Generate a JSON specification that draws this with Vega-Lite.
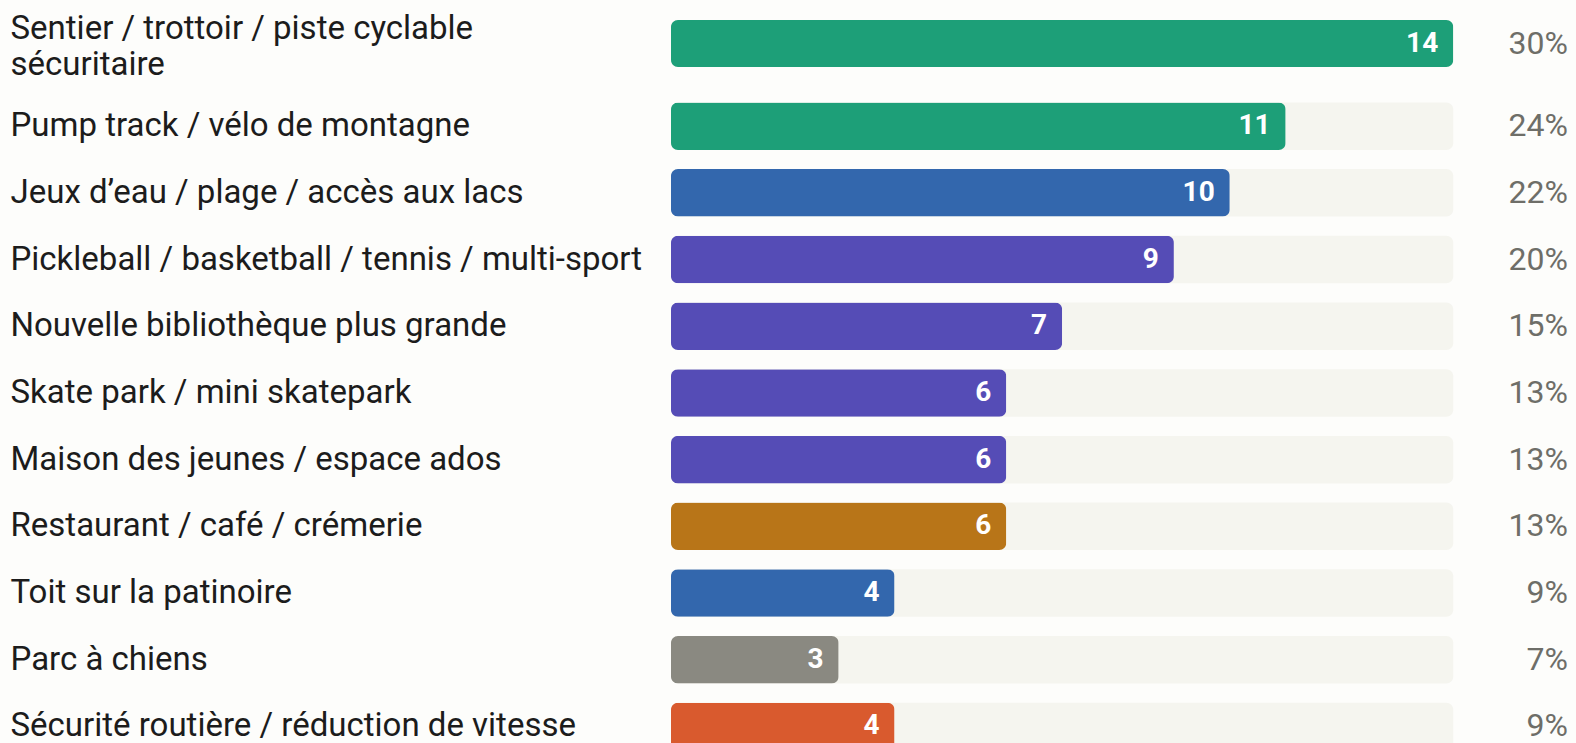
{
  "$schema": "https://vega.github.io/schema/vega-lite/v6.json",
  "autosize": {"type": "none"},
  "width": 894,
  "height": 743,
  "padding": {"left": 671, "right": 11, "top": 0, "bottom": 0},
  "background": "#fdfdfb",
  "config": {"view": {"stroke": null}, "font": "Roboto"},
  "data": {
    "values": [
      {"rank": 1, "label": "Sentier / trottoir / piste cyclable|sécuritaire", "count": 14, "pct": 0.30, "group": "Mobilité active"},
      {"rank": 2, "label": "Pump track / vélo de montagne", "count": 11, "pct": 0.24, "group": "Mobilité active"},
      {"rank": 3, "label": "Jeux d’eau / plage / accès aux lacs", "count": 10, "pct": 0.22, "group": "Eau et glace"},
      {"rank": 4, "label": "Pickleball / basketball / tennis / multi-sport", "count": 9, "pct": 0.20, "group": "Loisirs"},
      {"rank": 5, "label": "Nouvelle bibliothèque plus grande", "count": 7, "pct": 0.15, "group": "Loisirs"},
      {"rank": 6, "label": "Skate park / mini skatepark", "count": 6, "pct": 0.13, "group": "Loisirs"},
      {"rank": 7, "label": "Maison des jeunes / espace ados", "count": 6, "pct": 0.13, "group": "Loisirs"},
      {"rank": 8, "label": "Restaurant / café / crémerie", "count": 6, "pct": 0.13, "group": "Commerce"},
      {"rank": 9, "label": "Toit sur la patinoire", "count": 4, "pct": 0.09, "group": "Eau et glace"},
      {"rank": 10, "label": "Parc à chiens", "count": 3, "pct": 0.07, "group": "Animaux"},
      {"rank": 11, "label": "Sécurité routière / réduction de vitesse", "count": 4, "pct": 0.09, "group": "Sécurité"}
    ]
  },
  "layer": [
    {
      "transform": [{"filter": "datum.rank == 1"}],
      "encoding": {
        "y": {
          "field": "label", "type": "nominal", "sort": {"field": "rank", "op": "min"},
          "scale": {"range": [20, 67], "paddingInner": 0, "paddingOuter": 0},
          "axis": {"title": null, "orient": "left", "domain": false, "ticks": false, "tickSize": 0, "labelAlign": "left", "labelBaseline": "middle", "labelPadding": 661, "labelOffset": -15, "labelFontSize": 33, "labelColor": "#1c1c1c", "labelFont": "Roboto", "labelLimit": 700, "labelLineHeight": 36, "labelExpr": "split(datum.label, '|')"}
        }
      },
      "layer": [
        {"mark": {"type": "bar", "color": "#f5f5ef", "cornerRadius": 7}, "encoding": {"x": {"datum": 14, "type": "quantitative", "scale": {"domain": [0, 16], "nice": false}, "axis": null}}},
        {"mark": {"type": "bar", "cornerRadius": 7}, "encoding": {"x": {"field": "count", "type": "quantitative", "axis": null}, "color": {"field": "group", "type": "nominal", "legend": null, "scale": {"domain": ["Mobilité active", "Eau et glace", "Loisirs", "Commerce", "Animaux", "Sécurité"], "range": ["#1d9f78", "#3367ad", "#554cb6", "#b87518", "#8a8981", "#d95a2e"]}}}},
        {"mark": {"type": "text", "align": "right", "baseline": "middle", "dx": -15, "color": "#ffffff", "fontWeight": "bold", "fontSize": 28}, "encoding": {"x": {"field": "count", "type": "quantitative", "axis": null}, "text": {"field": "count", "type": "quantitative"}}},
        {"mark": {"type": "text", "align": "right", "baseline": "middle", "dx": 3, "color": "#6e6e68", "fontSize": 32}, "encoding": {"x": {"datum": 16, "type": "quantitative", "axis": null}, "text": {"field": "pct", "type": "quantitative", "format": ".0%"}}}
      ]
    },
    {
      "transform": [{"filter": "datum.rank > 1"}],
      "encoding": {
        "y": {
          "field": "label", "type": "nominal", "sort": {"field": "rank", "op": "min"},
          "scale": {"range": [92.8, 759.8], "paddingInner": 0.288, "paddingOuter": 0.144},
          "axis": {"title": null, "orient": "left", "domain": false, "ticks": false, "tickSize": 0, "labelAlign": "left", "labelBaseline": "middle", "labelPadding": 661, "labelFontSize": 33, "labelColor": "#1c1c1c", "labelFont": "Roboto", "labelLimit": 700, "labelLineHeight": 36}
        }
      },
      "layer": [
        {"mark": {"type": "bar", "color": "#f5f5ef", "cornerRadius": 7}, "encoding": {"x": {"datum": 14, "type": "quantitative", "axis": null}}},
        {"mark": {"type": "bar", "cornerRadius": 7}, "encoding": {"x": {"field": "count", "type": "quantitative", "axis": null}, "color": {"field": "group", "type": "nominal", "legend": null}}},
        {"mark": {"type": "text", "align": "right", "baseline": "middle", "dx": -15, "color": "#ffffff", "fontWeight": "bold", "fontSize": 28}, "encoding": {"x": {"field": "count", "type": "quantitative", "axis": null}, "text": {"field": "count", "type": "quantitative"}}},
        {"mark": {"type": "text", "align": "right", "baseline": "middle", "dx": 3, "color": "#6e6e68", "fontSize": 32}, "encoding": {"x": {"datum": 16, "type": "quantitative", "axis": null}, "text": {"field": "pct", "type": "quantitative", "format": ".0%"}}}
      ]
    }
  ],
  "resolve": {"scale": {"y": "independent"}, "axis": {"y": "independent"}}
}
